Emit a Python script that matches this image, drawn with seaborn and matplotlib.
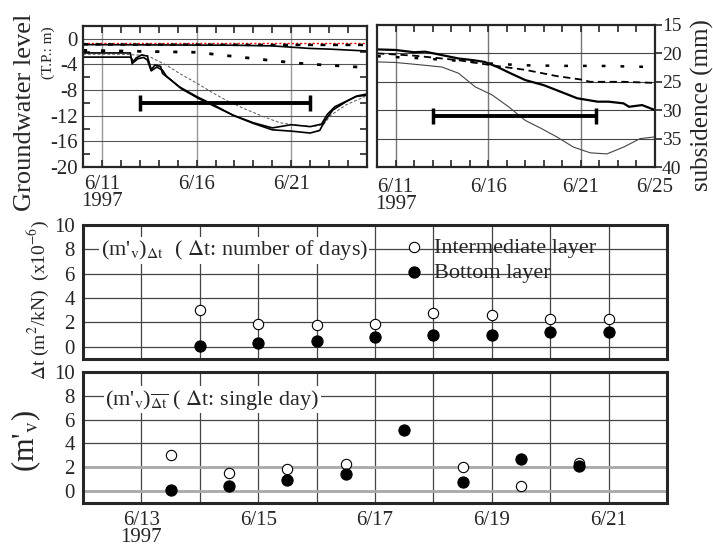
import matplotlib
matplotlib.use("Agg")
import matplotlib.pyplot as plt
import seaborn as sns
from matplotlib.ticker import MultipleLocator, FixedLocator

sns.set_style("ticks")
plt.rcParams['font.family'] = ['Liberation Serif', 'DejaVu Serif']
plt.rcParams['mathtext.fontset'] = 'stix'

# ---- top-left: groundwater level (T.P. m), x = day of June 1997
gw_red_day = [10, 13, 16, 19, 22, 25]
gw_red_lvl = [-0.6, -0.6, -0.6, -0.6, -0.6, -0.6]
gw_dash_top_day = [10, 13, 16, 19, 22, 25]
gw_dash_top_lvl = [-0.85, -0.9, -0.9, -0.95, -0.95, -0.95]
gw_solid_top_day = [10, 14, 18, 20, 21, 22, 23, 24, 25]
gw_solid_top_lvl = [-0.9, -0.95, -1.0, -1.1, -1.3, -1.5, -1.6, -1.75, -1.9]
gw_dot_day = [10, 12, 14, 16, 18, 20, 21, 22, 24, 25]
gw_dot_lvl = [-1.8, -1.9, -2.0, -2.1, -2.75, -3.4, -3.7, -3.95, -4.3, -4.5]
gw_a_day = [10, 11, 12, 12.5, 12.6, 12.8, 13.1, 13.4, 13.6, 13.8, 14.1, 14.2, 15.1, 16.0,
            16.9, 17.9, 19.0, 20.0, 21.0, 22.0, 22.5, 22.8, 23.2, 23.9, 24.4, 25.0]
gw_a_lvl = [-2.2, -2.2, -2.2, -2.2, -3.9, -3.0, -2.5, -2.7, -4.8, -4.1, -4.3, -5.4, -7.5, -9.0,
            -10.3, -11.9, -13.2, -14.2, -14.4, -14.7, -14.3, -12.7, -11.1, -9.8, -9.0, -8.8]
gw_b_day = [10, 11, 12, 12.5, 12.7, 12.9, 13.2, 13.4, 13.6, 13.9, 14.2, 14.4, 15.2, 16.1,
            17.0, 18.0, 19.0, 20.0, 21.0, 22.0, 22.6, 22.9, 23.3, 24.0, 24.5, 25.0]
gw_b_lvl = [-2.85, -2.85, -2.85, -2.85, -3.6, -3.1, -2.9, -3.3, -5.0, -4.4, -4.9, -5.8, -7.8, -9.3,
            -10.6, -12.0, -13.1, -13.9, -13.4, -13.7, -13.3, -11.8, -10.6, -9.6, -8.9, -8.6]
gw_thin_day = [10, 12, 13.4, 13.8, 14.4, 15.1, 16.0, 16.9, 17.7, 18.6, 19.5, 20.4, 21.1,
               22.1, 22.7, 23.1, 23.9, 24.9]
gw_thin_lvl = [-2.4, -2.4, -2.6, -3.2, -4.1, -5.4, -6.9, -8.5, -9.8, -11.0, -12.1, -13.1, -13.4,
               -13.7, -13.4, -11.9, -10.3, -9.0]

# ---- top-right: subsidence (mm)
sub_thick_day = [10, 11, 12, 12.6, 13.5, 14.4, 15.2, 15.8, 16.5, 17.2, 18.0, 19.0, 20.1, 20.8,
                 21.9, 22.5, 23.3, 23.6, 24.3, 24.7, 25.0]
sub_thick_val = [19.3, 19.4, 19.8, 19.7, 20.3, 20.9, 21.2, 21.5, 22.4, 23.5, 24.7, 25.6, 27.0, 27.9,
                 28.5, 28.5, 28.8, 29.4, 29.1, 29.6, 30.0]
sub_dash_day = [10, 12, 14.4, 16.2, 18, 19.7, 21, 21.5, 23.3, 25]
sub_dash_val = [20.0, 20.4, 21.2, 22.1, 22.9, 24.0, 24.6, 25.0, 25.0, 25.2]
sub_dot_day = [10, 12, 14.4, 16.2, 18, 20, 22, 25]
sub_dot_val = [20.5, 20.8, 21.3, 21.8, 22.1, 22.2, 22.2, 22.4]
sub_thin_day = [10, 11, 12.6, 13.5, 14.4, 15.3, 16.2, 17.1, 18.0, 18.85, 19.7, 20.6, 21.5, 22.4,
                23.3, 24.2, 25.0]
sub_thin_val = [21.5, 21.6, 22.1, 22.4, 23.5, 25.9, 27.3, 29.4, 31.8, 33.2, 34.7, 36.5, 37.5, 37.7,
                36.5, 35.0, 34.7]

# pumping period brackets
bracket_start = 13
bracket_end_left = 22
bracket_end_right = 21.8
bracket_level_left = -10.0
bracket_level_right = 31.0

# ---- middle: (m'v) over number of days
mid_days = [14, 15, 16, 17, 18, 19, 20, 21]
mid_inter = [3.05, 1.9, 1.8, 1.9, 2.8, 2.6, 2.3, 2.3]
mid_bottom = [0.1, 0.3, 0.5, 0.8, 1.0, 0.95, 1.2, 1.2]

# ---- bottom: (m'v) single day
single_inter_days = [13.5, 14.5, 15.5, 16.5, 18.5, 19.5, 20.5]
single_inter = [3.0, 1.5, 1.85, 2.25, 2.0, 0.4, 2.4]
single_bottom_days = [13.5, 14.5, 15.5, 16.5, 17.5, 18.5, 19.5, 20.5]
single_bottom = [0.1, 0.45, 0.9, 1.4, 5.15, 0.75, 2.7, 2.1]

fig = plt.figure(figsize=(7.13, 5.49), dpi=100)
ax1 = fig.add_axes([0.1164, 0.6958, 0.3983, 0.2568])
ax2 = fig.add_axes([0.5288, 0.6958, 0.3899, 0.2587])
ax3 = fig.add_axes([0.1164, 0.3461, 0.8191, 0.2441])
ax4 = fig.add_axes([0.1164, 0.0838, 0.8191, 0.2386])

# top-left lines
sns.lineplot(x=gw_red_day, y=gw_red_lvl, ax=ax1, color='red', lw=1, ls=(0, (1.5, 1.5)))
sns.lineplot(x=gw_dash_top_day, y=gw_dash_top_lvl, ax=ax1, color='black', lw=1.8, ls=(0, (2, 3)))
sns.lineplot(x=gw_solid_top_day, y=gw_solid_top_lvl, ax=ax1, color='black', lw=1.2)
sns.lineplot(x=gw_dot_day, y=gw_dot_lvl, ax=ax1, color='black', lw=2, ls=(0, (1.5, 5)))
sns.lineplot(x=gw_thin_day, y=gw_thin_lvl, ax=ax1, color='#555555', lw=0.7, ls=(0, (3, 2)))
sns.lineplot(x=gw_a_day, y=gw_a_lvl, ax=ax1, color='black', lw=1.2)
sns.lineplot(x=gw_b_day, y=gw_b_lvl, ax=ax1, color='black', lw=1.2)
mid_l = (bracket_start + bracket_end_left) / 2
ax1.errorbar(mid_l, bracket_level_left, xerr=[[mid_l - bracket_start], [bracket_end_left - mid_l]],
             fmt='none', ecolor='black', elinewidth=2.8, capsize=6, capthick=2.5)

# top-right lines
sns.lineplot(x=sub_thick_day, y=sub_thick_val, ax=ax2, color='black', lw=1.6)
sns.lineplot(x=sub_dash_day, y=sub_dash_val, ax=ax2, color='black', lw=1.3, ls=(0, (4, 2.5)))
sns.lineplot(x=sub_dot_day, y=sub_dot_val, ax=ax2, color='black', lw=1.8, ls=(0, (1.5, 6)))
sns.lineplot(x=sub_thin_day, y=sub_thin_val, ax=ax2, color='#444444', lw=0.8)
mid_r = (bracket_start + bracket_end_right) / 2
ax2.errorbar(mid_r, bracket_level_right, xerr=[[mid_r - bracket_start], [bracket_end_right - mid_r]],
             fmt='none', ecolor='black', elinewidth=2.8, capsize=6, capthick=2.5)

tick_fs = 15
for ax in (ax1, ax2):
    ax.set_xlim(10, 25)
    ax.xaxis.set_minor_locator(MultipleLocator(1))
    ax.tick_params(axis='x', which='both', direction='in', top=True, bottom=True,
                   length=5, width=1.2, labelsize=tick_fs, pad=6)
    ax.grid(False)
    for s in ax.spines.values():
        s.set_linewidth(1.6)
    ax.set_xlabel('')
    ax.set_ylabel('')

ax1.set_xticks([11, 16, 21])
ax1.set_xticklabels(['6/11\n1997', '6/16', '6/21'], linespacing=0.85)
ax1.set_ylim(-20, 2)
ax1.set_yticks([0, -4, -8, -12, -16, -20])
ax1.set_yticklabels(['0', '-4', '-8', '-12', '-16', '-20'])
ax1.yaxis.set_minor_locator(FixedLocator([-2, -6, -10, -14, -18]))
ax1.tick_params(axis='y', which='major', length=0, labelsize=tick_fs, pad=4)
ax1.tick_params(axis='y', which='minor', direction='in', left=True, right=True, length=5, width=1.2)
for d in [11, 16, 21]:
    ax1.axvline(d, color='#999999', lw=1, zorder=0)
for v in [0, -4, -8, -12, -16]:
    ax1.axhline(v, color='#555555', lw=0.8, zorder=0)

ax2.set_xticks([11, 16, 21, 25])
ax2.set_xticklabels(['6/11\n1997', '6/16', '6/21', '6/25'], linespacing=0.85)
ax2.tick_params(axis='x', which='major', pad=8)
ax2.set_ylim(40, 15)
ax2.yaxis.tick_right()
ax2.set_yticks([15, 20, 25, 30, 35, 40])
ax2.tick_params(axis='y', which='major', direction='out', left=False, right=True,
                length=5, width=1.2, labelsize=14, pad=0)
for d in [11, 16, 21]:
    ax2.axvline(d, color='#777777', lw=1, zorder=0)
for v in [20, 25, 30, 35]:
    ax2.axhline(v, color='#444444', lw=0.8, zorder=0)

# middle & bottom scatter panels
sns.scatterplot(x=mid_days, y=mid_inter, ax=ax3, color='white', edgecolor='black', linewidth=0.8,
                s=55, marker='o', label='Intermediate layer', zorder=3)
sns.scatterplot(x=mid_days, y=mid_bottom, ax=ax3, color='black', edgecolor='black', linewidth=0.8,
                s=65, marker='o', label='Bottom layer', zorder=3)
sns.scatterplot(x=single_inter_days, y=single_inter, ax=ax4, color='white', edgecolor='black',
                linewidth=0.8, s=55, marker='o', zorder=3)
sns.scatterplot(x=single_bottom_days, y=single_bottom, ax=ax4, color='black', edgecolor='black',
                linewidth=0.8, s=65, marker='o', zorder=3)

for ax in (ax3, ax4):
    ax.set_xlim(12, 22)
    ax.set_ylim(-1, 10)
    ax.set_xticks(range(13, 22))
    ax.set_yticks([0, 2, 4, 6, 8, 10])
    ax.tick_params(axis='both', length=0, labelsize=tick_fs, pad=6)
    ax.grid(True, color='#444444', lw=0.9)
    ax.set_axisbelow(True)
    for s in ax.spines.values():
        s.set_linewidth(2.2)
    ax.set_xlabel('')
    ax.set_ylabel('')

ax3.set_xticklabels([])
ax4.set_xticklabels(['6/13\n1997', '', '6/15', '', '6/17', '', '6/19', '', '6/21'], linespacing=0.85)
for v in [0, 2]:
    ax4.axhline(v, color='#aaaaaa', lw=2, zorder=1)

ax3.text(0.03, 0.81, r"(m'$_\mathrm{v}$)$_{\Delta \mathrm{t}}$  ( $\Delta$t: number of days)",
         transform=ax3.transAxes, fontsize=16, va='center', ha='left',
         bbox=dict(facecolor='white', edgecolor='none', pad=1), zorder=4)
ax4.text(0.038, 0.79, r"(m'$_\mathrm{v}$)$_{\overline{\Delta \mathrm{t}}}$ ( $\Delta$t: single day)",
         transform=ax4.transAxes, fontsize=16, va='center', ha='left',
         bbox=dict(facecolor='white', edgecolor='none', pad=1), zorder=4)
ax3.legend(loc='upper left', bbox_to_anchor=(0.542, 0.905), frameon=False, fontsize=16,
           handletextpad=0.25, borderaxespad=0, borderpad=0, labelspacing=0.2, handlelength=1.3)

# axis titles
fig.text(25 / 713, 1 - 112 / 549, 'Groundwater level', rotation=90, ha='center', va='center', fontsize=19)
fig.text(48 / 713, 1 - 53 / 549, '(T.P.: m)', rotation=90, ha='center', va='center', fontsize=11)
fig.text(702 / 713, 1 - 105 / 549, 'subsidence (mm)', rotation=90, ha='center', va='center', fontsize=18)
fig.text(26 / 713, 1 - 472 / 549, r"(m'$_\mathrm{v}$)", rotation=90, ha='center', va='bottom',
         fontsize=22)
fig.text(38 / 713, 1 - 380 / 549, r"$\Delta$t (m$^2$/kN)  (x10$^{-6}$)", rotation=90,
         ha='center', va='bottom', fontsize=14)

fig.savefig('out.png', dpi=100)
